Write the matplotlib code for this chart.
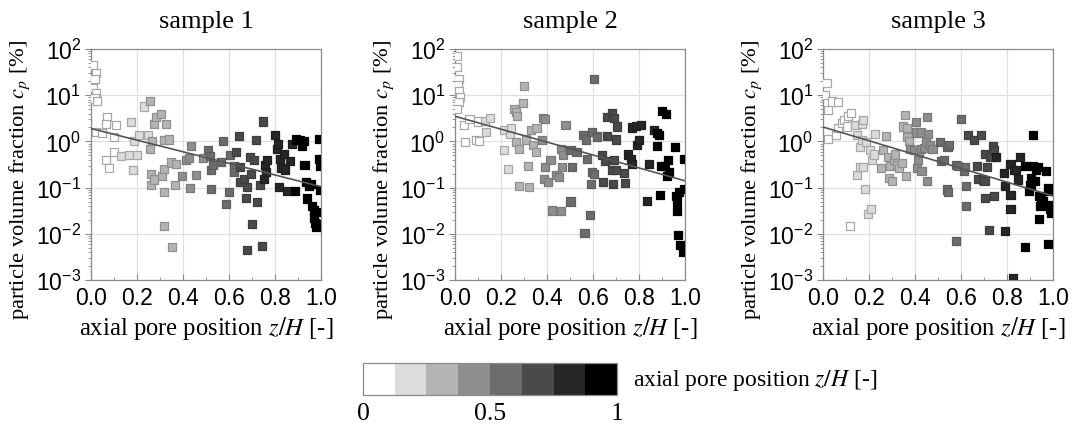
import numpy as np
import matplotlib
matplotlib.use("Agg")
import matplotlib.pyplot as plt
from matplotlib.colors import ListedColormap, BoundaryNorm
from matplotlib.ticker import LogLocator, MultipleLocator, NullFormatter
import matplotlib.colorbar as mcolorbar

# ---- data (z/H, c_p in %) ----
x1 = [0.01, 0.02, 0.015, 0.01, 0.02, 0.015, 0.025, 0.023, 0.048, 0.07, 0.067, 0.11, 0.10,
      0.067, 0.077, 0.099, 0.13, 0.164, 0.20, 0.183, 0.174, 0.186, 0.207, 0.246, 0.229,
      0.255, 0.255, 0.265, 0.272, 0.284, 0.304, 0.326, 0.316, 0.338, 0.26, 0.26, 0.275,
      0.309, 0.319, 0.316, 0.316, 0.352, 0.348, 0.371, 0.367, 0.396, 0.414, 0.426, 0.435,
      0.432, 0.458, 0.487, 0.507, 0.516, 0.522, 0.522, 0.53, 0.565, 0.574, 0.603, 0.599,
      0.588, 0.62, 0.623, 0.629, 0.642, 0.649, 0.646, 0.664, 0.675, 0.678, 0.678, 0.69,
      0.696, 0.70, 0.71, 0.716, 0.722, 0.733, 0.743, 0.748, 0.751, 0.758, 0.765, 0.762,
      0.801, 0.809, 0.813, 0.817, 0.82, 0.826, 0.838, 0.845, 0.852, 0.864, 0.874, 0.888,
      0.893, 0.91, 0.917, 0.925, 0.928, 0.936, 0.946, 0.954, 0.939, 0.96, 0.97, 0.968,
      0.975, 0.98, 0.99, 0.99, 0.994, 0.994, 0.99, 0.983]
y1 = [45, 30, 22, 14, 11, 8.5, 7.5, 1.6, 1.5, 3.4, 2.4, 2.3, 1.24,
      0.39, 0.26, 0.6, 0.48, 0.5, 0.5, 0.24, 2.6, 1.0, 1.35, 1.35, 5.7,
      7.4, 0.69, 1.0, 2.4, 3.4, 4.0, 2.4, 1.05, 1.1, 0.2, 0.115, 0.15,
      0.18, 0.25, 0.08, 0.0146, 0.0051, 0.35, 0.33, 0.112, 0.18, 0.39, 0.44, 0.79,
      0.098, 0.19, 0.44, 0.64, 0.48, 0.24, 0.095, 0.31, 0.36, 1.0, 0.5, 0.08,
      0.045, 0.29, 0.22, 0.59, 1.3, 0.28, 0.13, 0.155, 0.06, 0.103, 0.0044, 0.46,
      0.2, 0.016, 0.39, 1.05, 0.049, 0.115, 0.0054, 2.7, 0.155, 0.31, 0.39, 0.22,
      1.4, 0.69, 0.89, 0.103, 0.42, 0.26, 0.54, 0.24, 0.083, 0.37, 0.89, 0.083,
      1.1, 1.05, 0.79, 1.0, 0.31, 0.13, 0.11, 0.12, 0.058, 0.04, 0.032, 0.022,
      0.017, 0.014, 1.14, 0.42, 0.087, 0.3, 0.03, 0.016]

x2 = [0.01, 0.01, 0.015, 0.012, 0.018, 0.02, 0.015, 0.01, 0.039, 0.044, 0.063, 0.092,
      0.106, 0.099, 0.131, 0.135, 0.153, 0.211, 0.214, 0.229, 0.24, 0.245, 0.258, 0.266,
      0.269, 0.266, 0.277, 0.277, 0.296, 0.301, 0.307, 0.316, 0.323, 0.33, 0.338, 0.352,
      0.354, 0.378, 0.383, 0.393, 0.386, 0.393, 0.403, 0.415, 0.422, 0.441, 0.451, 0.461,
      0.466, 0.461, 0.47, 0.48, 0.502, 0.509, 0.502, 0.528, 0.557, 0.568, 0.572, 0.563,
      0.585, 0.59, 0.596, 0.596, 0.604, 0.604, 0.616, 0.619, 0.64, 0.645, 0.65, 0.66,
      0.662, 0.684, 0.691, 0.684, 0.688, 0.691, 0.699, 0.706, 0.699, 0.735, 0.738, 0.752,
      0.764, 0.771, 0.771, 0.786, 0.79, 0.80, 0.81, 0.834, 0.844, 0.866, 0.878, 0.878,
      0.888, 0.895, 0.892, 0.898, 0.917, 0.913, 0.924, 0.921, 0.932, 0.956, 0.961, 0.965,
      0.965, 0.968, 0.975, 0.98, 0.99, 0.994, 0.997]
y2 = [70, 40, 22, 17, 12, 9, 7, 5, 2.3, 0.97, 3.0, 1.05,
      1.0, 2.7, 2.8, 1.6, 3.2, 1.8, 0.64, 0.25, 1.46, 1.94, 5.1, 4.3,
      3.6, 0.97, 0.67, 0.108, 6.7, 15.7, 1.1, 0.29, 0.105, 1.8, 0.85, 0.59,
      1.97, 1.09, 3.2, 3.1, 0.156, 0.28, 0.13, 0.4, 0.032, 0.184, 0.17, 0.7,
      0.28, 0.031, 0.5, 2.3, 0.64, 0.28, 0.05, 0.59, 1.39, 1.1, 0.42, 0.0106,
      0.025, 0.122, 1.6, 0.22, 0.2, 22.6, 1.3, 1.24, 0.5, 0.13, 0.37, 1.3,
      3.35, 4.2, 3.25, 0.24, 0.12, 0.39, 1.1, 2.1, 0.24, 0.21, 0.128, 0.52,
      0.42, 0.33, 2.0, 2.2, 0.85, 1.05, 2.3, 0.052, 0.33, 1.8, 1.54, 0.79,
      1.4, 0.30, 0.07, 4.5, 3.9, 0.3, 0.39, 0.18, 0.22, 0.75, 0.066, 0.052,
      0.032, 0.0093, 0.081, 0.0057, 0.0041, 0.095, 0.42]

x3 = [0.015, 0.01, 0.022, 0.039, 0.066, 0.02, 0.058, 0.064, 0.083, 0.093, 0.108, 0.122,
      0.119, 0.105, 0.141, 0.17, 0.175, 0.148, 0.16, 0.148, 0.16, 0.175, 0.181, 0.17,
      0.185, 0.195, 0.21, 0.204, 0.214, 0.221, 0.224, 0.25, 0.262, 0.272, 0.282, 0.287,
      0.301, 0.29, 0.309, 0.313, 0.323, 0.33, 0.345, 0.355, 0.349, 0.364, 0.36, 0.367,
      0.374, 0.378, 0.396, 0.403, 0.403, 0.408, 0.413, 0.418, 0.425, 0.425, 0.428, 0.44,
      0.45, 0.447, 0.451, 0.457, 0.466, 0.476, 0.509, 0.512, 0.524, 0.538, 0.544, 0.541,
      0.549, 0.578, 0.578, 0.588, 0.60, 0.611, 0.617, 0.622, 0.622, 0.632, 0.658, 0.67,
      0.672, 0.687, 0.694, 0.702, 0.704, 0.704, 0.713, 0.723, 0.728, 0.738, 0.742, 0.745,
      0.752, 0.786, 0.789, 0.792, 0.815, 0.815, 0.815, 0.825, 0.83, 0.84, 0.847, 0.857,
      0.876, 0.879, 0.894, 0.902, 0.905, 0.913, 0.913, 0.92, 0.927, 0.934, 0.937, 0.937,
      0.942, 0.949, 0.956, 0.971, 0.978, 0.98, 0.98, 0.985, 0.985, 0.99, 0.993]
y3 = [18, 10, 4.8, 7.3, 7.1, 1.12, 1.4, 1.94, 2.5, 2.9, 3.5, 4.1,
      0.0146, 2.1, 2.3, 2.4, 2.9, 1.39, 0.75, 0.19, 0.28, 0.28, 0.094, 1.09,
      0.95, 0.027, 0.035, 0.64, 0.4, 0.52, 1.46, 0.27, 0.64, 1.28, 0.47, 0.16,
      0.137, 0.3, 0.39, 0.52, 0.31, 0.27, 0.34, 3.76, 2.1, 1.94, 0.18, 1.24,
      1.0, 0.68, 0.64, 2.6, 1.56, 0.27, 0.4, 0.56, 1.56, 0.68, 0.23, 0.72,
      3.4, 0.95, 0.137, 1.46, 0.85, 0.68, 0.95, 0.37, 0.39, 0.091, 0.079, 0.75,
      0.85, 0.31, 0.0069, 0.3, 3.0, 0.23, 0.28, 0.11, 0.04, 1.39, 1.09, 0.3,
      0.154, 1.39, 0.144, 0.137, 0.06, 0.54, 0.28, 0.012, 0.46, 0.8, 0.64, 0.067,
      0.47, 0.21, 0.0114, 0.11, 0.33, 0.07, 0.035, 0.0011, 0.24, 0.236, 0.15, 0.47,
      0.29, 0.0052, 0.083, 0.116, 0.16, 1.39, 0.29, 0.137, 0.245, 0.28, 0.065, 0.021,
      0.04, 0.063, 0.051, 0.226, 0.1, 0.041, 0.0059, 0.035, 0.084, 0.028, 0.088]

titles = ["sample 1", "sample 2", "sample 3"]
fit_start = [1.9, 3.5, 2.05]   # regression line value at z/H = 0
fit_end = [0.105, 0.14, 0.066]  # regression line value at z/H = 1

bin_colors = ["#ffffff", "#dcdcdc", "#b4b4b4", "#8e8e8e", "#6c6c6c", "#4a4a4a", "#262626", "#000000"]
bin_edges = ["#a8a8a8", "#a8a8a8", "#909090", "#7a7a7a", "#5e5e5e", "#3e3e3e", "#1e1e1e", "#000000"]

plt.rcParams["mathtext.fontset"] = "custom"
plt.rcParams["mathtext.rm"] = "Liberation Sans"
plt.rcParams["mathtext.it"] = "Liberation Sans:italic"

serif = "Liberation Serif"
sans = "Liberation Sans"

cmap = ListedColormap(bin_colors)
norm = BoundaryNorm(np.linspace(0, 1, 9), cmap.N)

fig = plt.figure(figsize=(10.77, 4.31), dpi=100)
lefts = [0.0845, 0.4225, 0.7642]
samples = [(x1, y1), (x2, y2), (x3, y3)]

for i, (xs, ys) in enumerate(samples):
    ax = fig.add_axes([lefts[i], 0.348, 0.2136, 0.536])
    xs = np.array(xs)
    ys = np.array(ys)
    bins = np.minimum((xs * 8).astype(int), 7)
    ax.scatter(xs, ys, c=xs, cmap=cmap, norm=norm, marker="s", s=34,
               edgecolors=[bin_edges[b] for b in bins], linewidths=0.9, zorder=3)
    ax.plot([0, 1], [fit_start[i], fit_end[i]], color="#555555", lw=1.2, zorder=4)

    ax.set_yscale("log")
    ax.set_xlim(0, 1)
    ax.set_ylim(1e-3, 1e2)
    ax.xaxis.set_major_locator(MultipleLocator(0.2))
    ax.xaxis.set_minor_locator(MultipleLocator(0.1))
    ax.yaxis.set_major_locator(LogLocator(base=10, numticks=10))
    ax.yaxis.set_minor_locator(LogLocator(base=10, subs=np.arange(2, 10), numticks=10))
    ax.yaxis.set_minor_formatter(NullFormatter())
    ax.xaxis.set_major_formatter(matplotlib.ticker.FormatStrFormatter("%.1f"))

    ax.grid(True, which="major", color="#e0e0e0", lw=0.9, zorder=0)
    for sp in ax.spines.values():
        sp.set_color("#8a8a8a")
        sp.set_linewidth(0.9)
    ax.tick_params(axis="x", which="both", direction="in", color="#8a8a8a",
                   labelsize=16.5, pad=4)
    ax.tick_params(axis="x", which="major", length=4)
    ax.tick_params(axis="x", which="minor", length=2.5)
    ax.tick_params(axis="y", which="both", direction="out", color="#8a8a8a",
                   labelsize=16.5, pad=3)
    ax.tick_params(axis="y", which="major", length=4)
    ax.tick_params(axis="y", which="minor", length=2.5)
    for lab in ax.get_xticklabels() + ax.get_yticklabels():
        lab.set_fontfamily(sans)

    ax.set_title(titles[i], fontsize=19, fontfamily=serif, pad=16)
    ax.set_xlabel("axial pore position $z/H$ [-]", fontsize=17.7, fontfamily=serif,
                  math_fontfamily="stix", labelpad=4)
    ax.set_ylabel("particle volume fraction $c_p$ [%]", fontsize=16.2, fontfamily=serif,
                  math_fontfamily="stix")
    ax.yaxis.set_label_coords(-0.255, 0.437)

# colour bar for z/H
cax = fig.add_axes([0.337, 0.0812, 0.236, 0.0742])
cb = mcolorbar.ColorbarBase(cax, cmap=cmap, norm=norm, orientation="horizontal",
                            ticks=[0, 0.5, 1])
cb.ax.minorticks_off()
cb.outline.set_edgecolor("#8a8a8a")
cb.outline.set_linewidth(0.9)
cb.ax.set_xticklabels(["0", "0.5", "1"])
cb.ax.tick_params(length=0, labelsize=18.5, pad=5)
for lab in cb.ax.get_xticklabels():
    lab.set_fontfamily(serif)
fig.text(0.588, 0.118, "axial pore position $z/H$ [-]", fontsize=17, fontfamily=serif,
         math_fontfamily="stix", va="center", ha="left")

fig.savefig("out.png", dpi=100)
